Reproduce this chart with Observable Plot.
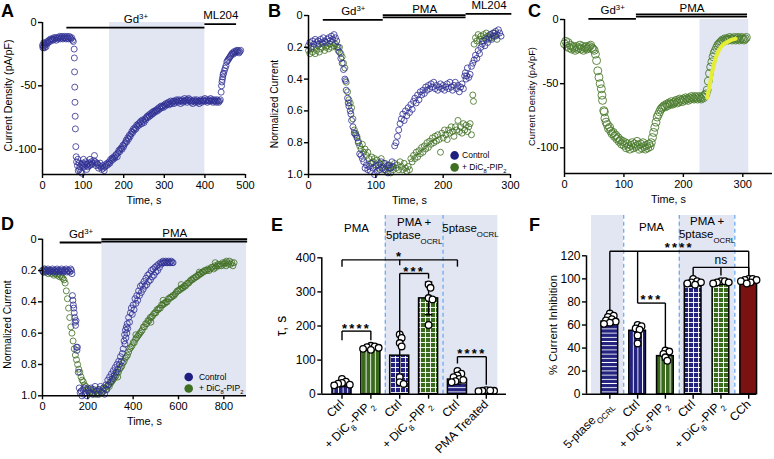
<!DOCTYPE html>
<html><head><meta charset="utf-8">
<script src="https://cdn.jsdelivr.net/npm/d3@7"></script>
<script src="https://cdn.jsdelivr.net/npm/@observablehq/plot@0.6"></script>
<style>
body{margin:0;background:#fff;font-family:'Liberation Sans',Arial,sans-serif;}
#fig{position:relative;width:774px;height:459px;overflow:hidden;background:#fff;}
.panel{position:absolute;}
.letter{position:absolute;font-weight:bold;font-size:18px;line-height:18px;color:#000;}
</style></head><body>
<svg width="0" height="0" style="position:absolute"><defs>
<pattern id="vNavy" patternUnits="userSpaceOnUse" width="4.6" height="10"><rect width="4.6" height="10" fill="#23237f"/><line x1="2.3" y1="0" x2="2.3" y2="10" stroke="#fff" stroke-width="0.9"/></pattern>
<pattern id="vGreen" patternUnits="userSpaceOnUse" width="4.6" height="10"><rect width="4.6" height="10" fill="#3a6a1e"/><line x1="2.3" y1="0" x2="2.3" y2="10" stroke="#fff" stroke-width="0.9"/></pattern>
<pattern id="hNavy" patternUnits="userSpaceOnUse" width="10" height="4.2"><rect width="10" height="4.2" fill="#23237f"/><line x1="0" y1="2.1" x2="10" y2="2.1" stroke="#fff" stroke-width="0.9"/></pattern>
<pattern id="gNavy" patternUnits="userSpaceOnUse" width="5" height="5"><rect width="5" height="5" fill="#23237f"/><path d="M2.5 0V5M0 2.5H5" stroke="#fff" stroke-width="0.9"/></pattern>
<pattern id="gGreen" patternUnits="userSpaceOnUse" width="5" height="5"><rect width="5" height="5" fill="#3a6a1e"/><path d="M2.5 0V5M0 2.5H5" stroke="#fff" stroke-width="0.9"/></pattern>
</defs></svg>
<div id="fig"></div>
<script>
// ---------------- DATA ----------------
// Panel A: time (s), current density (pA/pF)
const aTrace = [
[0,-18],[1,-20],[2,-19],[3,-16],[4,-17],[5,-20],[6,-18],[8,-16],[9,-19],[10,-17],[12,-15],[14,-16],[16,-14],[18,-15],[20,-13],[22,-14],[24,-13],[26,-14],[28,-12],[30,-13],[32,-12],[34,-14],[36,-12],[38,-13],[40,-12],[42,-11],[44,-13],[46,-12],[48,-11],[50,-13],[52,-12],[54,-11],[56,-12],[58,-13],[60,-11],[62,-12],[64,-13],[66,-11],[68,-12],[70,-13],[72,-12],[74,-14],[76,-15],
[78,-21],[78.5,-28],[79,-39],[79.5,-51],[80,-63],[80.5,-74],[81,-84],[82,-98],[83,-106],
[84,-110],[86,-113],[87,-108],[88,-117],[90,-111],[91,-116],[92,-114],[94,-118],[96,-112],[97,-119],[98,-113],[100,-111],[101,-108],[102,-114],[104,-112],[106,-110],[108,-113],[109,-116],[110,-112],[112,-114],[114,-111],[116,-113],[117,-108],[118,-112],[120,-110],[122,-112],[124,-111],[126,-109],[128,-105],[130,-110],[132,-113],[134,-111],[136,-112],[138,-115],[140,-113],[142,-111],[144,-114],[146,-116],[148,-113],[150,-115],[152,-117],[154,-114],[156,-112],[158,-113],[160,-111],[162,-112],[164,-110],
[166,-111],[168,-108],[170,-109],[172,-107],[174,-108],[176,-106],[178,-107],[180,-105],[182,-104],[184,-106],[186,-103],[188,-101],[190,-102],[192,-100],[194,-99],[196,-100],[198,-97],[200,-98],
[202,-96],[204,-95],[206,-93],[208,-94],[210,-91],[212,-92],[214,-89],[216,-90],[218,-88],[220,-86],[222,-87],[224,-84],[226,-85],[228,-83],[230,-84],[232,-81],[234,-82],[236,-80],[238,-81],[240,-79],[242,-78],[244,-80],[246,-77],[248,-78],[250,-79],[252,-76],[254,-77],[256,-75],[258,-74],[260,-75],
[262,-73],[264,-74],[266,-72],[268,-73],[270,-71],[272,-72],[274,-70],[276,-71],[278,-70],[280,-69],[282,-70],[284,-68],[286,-69],[288,-67],[290,-68],[292,-66],[294,-67],[296,-66],[298,-67],[300,-65],[302,-66],[304,-64],[306,-65],[308,-64],[310,-63],[312,-65],[314,-64],[316,-62],[318,-64],[320,-63],[322,-62],[324,-64],[326,-62],[328,-63],[330,-61],
[332,-62],[334,-63],[336,-61],[338,-62],[340,-64],[342,-62],[344,-61],[346,-63],[348,-62],[350,-60],[352,-62],[354,-61],[356,-63],[358,-61],[360,-60],[362,-62],[364,-61],[366,-63],[368,-62],[370,-64],[372,-62],[374,-61],[376,-63],[378,-62],[380,-61],[382,-63],[384,-62],[386,-64],[388,-62],[390,-61],[392,-63],[394,-62],[396,-61],[398,-62],[400,-60],[402,-62],[404,-61],[406,-63],[408,-62],[410,-61],[412,-62],[414,-60],[416,-62],[418,-61],[420,-63],[422,-62],[424,-61],[426,-62],[428,-63],[430,-61],[432,-62],[434,-63],[436,-62],[438,-61],
[440,-55],[441,-50],[442,-47],[443,-45],[444,-43],[445,-41],[446,-40],[448,-38],[450,-36],[452,-34],[454,-31],[456,-30],[458,-29],[460,-28],[462,-27],[464,-26],[466,-25],[468,-24],[470,-25],[472,-23],[474,-24],[476,-23],[478,-22],[480,-23],[482,-22],[484,-24],[486,-23],[488,-22]
];
const aShade = [[165, 400]];
const aProtocol = [
  {label: "Gd^{3+}", start: 60, end: 400, level: -4},
  {label: "ML204", start: 400, end: 478, level: -1.3}
];

// Panel B: time (s), normalized current
const bControl = [
[0,0.19],[2,0.17],[4,0.2],[6,0.16],[8,0.18],[10,0.15],[12,0.17],[14,0.16],[16,0.18],[18,0.15],[20,0.17],[22,0.14],[24,0.16],[26,0.17],[28,0.15],[30,0.14],[32,0.16],[34,0.13],[36,0.15],[38,0.12],[40,0.14],[42,0.16],[44,0.2],
[46,0.23],[48,0.27],[50,0.3],[52,0.34],[54,0.4],[55,0.41],[56,0.47],[58,0.52],[59,0.55],[60,0.57],[62,0.6],[63,0.62],[64,0.66],[66,0.7],[68,0.74],[70,0.75],[72,0.77],[74,0.8],[76,0.87],[78,0.88],[80,0.9],[82,0.92],[84,0.96],[86,0.94],[88,0.97],[90,0.95],[92,0.98],[94,0.93],[96,0.96],[98,1.0],[100,0.95],[102,0.98],[104,0.94],[106,0.97],[108,0.92],[110,0.96],[112,0.93],[114,0.97],[116,0.95],[118,0.99],[120,0.94],[122,0.96],[124,0.92],[126,0.95],[128,0.82],
[130,0.8],[132,0.76],[134,0.72],[136,0.68],[138,0.65],[140,0.62],[142,0.66],[144,0.6],[146,0.63],[148,0.58],[150,0.61],[152,0.56],[154,0.59],[156,0.54],[158,0.52],[160,0.55],[162,0.5],[164,0.53],[166,0.48],[168,0.5],[170,0.47],[172,0.49],[174,0.45],[176,0.47],[178,0.44],[180,0.46],[182,0.43],[184,0.45],[186,0.42],[188,0.46],[190,0.44],[192,0.47],[194,0.45],[196,0.43],[198,0.46],[200,0.44],[202,0.47],[204,0.45],[206,0.43],[208,0.46],[210,0.42],[212,0.45],[214,0.47],[216,0.44],[218,0.42],[220,0.46],[222,0.44],[224,0.48],[226,0.45],[228,0.43],[230,0.46],
[232,0.38],[233,0.36],[234,0.4],[235,0.38],[236,0.33],[238,0.39],[240,0.37],[242,0.32],[244,0.3],[246,0.28],[248,0.25],[250,0.27],[252,0.22],[254,0.24],[256,0.2],[258,0.18],[260,0.16],[262,0.19],[264,0.15],[266,0.17],[268,0.14],[270,0.12],[272,0.15],[274,0.11],[276,0.13],[278,0.1],[280,0.12],[282,0.09],[284,0.11],[286,0.13]
];
const bPip2 = [
[0,0.22],[2,0.24],[4,0.21],[6,0.23],[8,0.2],[10,0.24],[12,0.22],[14,0.19],[16,0.23],[18,0.21],[20,0.2],[22,0.18],[24,0.22],[26,0.2],[28,0.19],[30,0.21],[32,0.18],[34,0.2],[36,0.17],[38,0.19],[40,0.18],[42,0.2],[44,0.22],
[46,0.2],[48,0.24],[50,0.26],[52,0.3],[54,0.33],[56,0.42],[58,0.48],[60,0.53],[62,0.55],[64,0.58],[66,0.65],[68,0.72],[70,0.74],[72,0.76],[74,0.79],[76,0.82],[78,0.84],[80,0.81],[82,0.86],[84,0.84],[86,0.88],[88,0.86],[90,0.9],[92,0.93],[94,0.89],[96,0.92],[98,0.9],[100,0.94],[102,0.91],[104,0.96],[106,0.93],[108,0.9],[110,0.95],[112,0.97],[114,0.93],[116,0.98],[118,0.94],[120,0.96],[122,0.99],[124,0.95],[126,0.97],[128,0.93],[130,0.96],[132,0.94],[134,0.97],[136,0.92],[138,0.95],[140,0.97],[142,0.93],[144,0.96],[146,0.98],[148,0.95],[150,0.97],
[152,0.9],[154,0.92],[156,0.88],[158,0.9],[160,0.86],[162,0.89],[164,0.85],[166,0.87],[168,0.83],[170,0.86],[172,0.82],[174,0.84],[176,0.8],[178,0.83],[180,0.79],[182,0.81],[184,0.77],[186,0.8],[188,0.76],[190,0.79],[192,0.75],[194,0.78],[196,0.86],[198,0.74],[200,0.77],[202,0.72],[204,0.75],[206,0.78],[208,0.72],[210,0.74],[212,0.7],[214,0.73],[216,0.76],[218,0.7],[220,0.72],[222,0.66],[224,0.73],[226,0.7],[228,0.74],[230,0.68],[232,0.72],[234,0.69],[236,0.73],[238,0.7],[240,0.68],[242,0.75],[244,0.5],[245,0.54],
[246,0.18],[248,0.14],[250,0.16],[252,0.12],[254,0.15],[256,0.13],[258,0.16],[260,0.12],[262,0.14],[264,0.11],[266,0.13],[268,0.15],[270,0.12],[272,0.14],[274,0.13],[276,0.11],[278,0.13],[280,0.15]
];
const bProtocol = [
  {label: "Gd^{3+}", start: 22, end: 111, level: 0.027},
  {label: "PMA", start: 111, end: 234, level: 0.012, double: true},
  {label: "ML204", start: 234, end: 302, level: -0.01}
];

// Panel C: time (s), current density (pA/pF)
const cTrace = [
[0,-19],[2,-17],[4,-21],[6,-18],[8,-22],[10,-20],[12,-23],[14,-21],[16,-22],[18,-24],[20,-21],[22,-23],[24,-22],[26,-20],[28,-23],[30,-21],[32,-24],[34,-22],[36,-21],[38,-23],[40,-22],[42,-21],[44,-20],[46,-22],[48,-23],[50,-24],
[52,-27],[54,-32],[56,-40],[58,-45],[60,-50],[62,-54],[63,-59],[64,-63],[66,-71],[67,-72],[68,-77],[70,-80],[72,-82],[74,-85],[76,-84],[78,-87],[80,-89],[82,-88],[84,-91],[86,-90],[88,-93],[90,-92],[92,-95],[94,-94],[96,-97],[98,-95],[100,-98],[102,-96],[104,-100],[106,-97],[108,-99],[110,-101],[112,-98],[114,-96],[116,-100],[118,-97],[120,-99],[122,-95],[124,-98],[126,-101],[128,-97],[130,-100],[132,-96],[134,-99],[136,-101],[138,-98],[140,-100],[142,-97],[144,-99],
[146,-96],[148,-92],[150,-88],[152,-84],[154,-80],[156,-76],[158,-74],[160,-72],[162,-70],[164,-69],[166,-68],[168,-67],[170,-68],[172,-66],[174,-67],[176,-65],[178,-66],[180,-64],[182,-66],[184,-65],[186,-64],[188,-63],[190,-65],[192,-64],[194,-62],[196,-63],[198,-64],[200,-62],[202,-63],[204,-61],[206,-62],[208,-63],[210,-61],[212,-62],[214,-60],[216,-61],[218,-62],[220,-60],[222,-61],[224,-62],[226,-60],[228,-61],[230,-62],[232,-60],[234,-61],[236,-59],
[238,-58],[240,-55],[242,-48],[244,-42],[246,-37],[248,-33],[250,-29],[252,-26],[254,-24],[256,-22],[258,-20],[260,-19],[262,-18],[264,-17],[266,-16],[268,-17],[270,-15],[272,-16],[274,-15],[276,-16],[278,-14],[280,-15],[282,-16],[284,-15],[286,-14],[288,-16],[290,-15],[292,-14],[294,-16],[296,-15],[298,-14],[300,-15],[302,-16],[304,-15],[306,-14]
];
const cFit = [[240,-61],[244,-52],[248,-42],[252,-34],[256,-28],[260,-24],[266,-20],[272,-18],[280,-16],[288,-15]];
const cShade = [[228, 310]];
const cProtocol = [
  {label: "Gd^{3+}", start: 41, end: 121, level: 0.5},
  {label: "PMA", start: 121, end: 308, level: 2.2, double: true}
];

// Panel D: time (s), normalized current
const dControl = [
[0,0.2],[4,0.21],[8,0.19],[12,0.2],[16,0.21],[20,0.2],[24,0.19],[28,0.2],[32,0.21],[36,0.2],[40,0.2],[44,0.19],[48,0.21],[52,0.2],[56,0.2],[60,0.21],[64,0.19],[68,0.2],[72,0.2],[76,0.21],[80,0.2],[84,0.19],[88,0.2],[92,0.21],[96,0.2],[100,0.2],[104,0.19],[108,0.21],[112,0.2],[116,0.2],[120,0.21],[124,0.19],[128,0.2],
[130,0.22],[132,0.36],[134,0.39],[136,0.42],[138,0.44],[140,0.47],[142,0.5],[144,0.53],[146,0.55],[148,0.52],[150,0.69],[152,0.71],[154,0.69],[158,0.85],[162,0.95],[166,0.98],[170,0.97],[174,1.0],[178,0.96],[182,0.99],[186,0.95],[190,0.98],[196,1.0],[202,0.96],[208,0.98],[214,0.95],[220,0.99],[226,0.96],[232,0.94],[238,0.97],[244,0.99],[250,0.96],[256,0.94],[262,0.98],[268,0.95],[274,0.99],[280,0.93],[284,0.96],
[288,0.9],[292,0.93],[296,0.88],[300,0.91],[304,0.86],[308,0.89],[312,0.84],[316,0.87],[320,0.82],[324,0.85],[328,0.8],[332,0.83],[336,0.78],[340,0.8],[344,0.75],[348,0.78],[352,0.73],[356,0.7],[360,0.65],[362,0.61],[364,0.67],[366,0.58],[368,0.63],[370,0.56],[372,0.6],[374,0.54],[376,0.57],[380,0.5],[384,0.53],[388,0.47],[392,0.44],[396,0.48],[400,0.42],[404,0.45],[408,0.38],[412,0.41],[416,0.36],[420,0.39],[424,0.33],[428,0.36],[432,0.3],[436,0.34],[440,0.29],[444,0.32],[448,0.27],[452,0.3],[456,0.25],[460,0.29],[464,0.23],[468,0.27],[472,0.22],[476,0.26],[480,0.2],[484,0.24],[488,0.19],[492,0.23],[496,0.18],[500,0.21],[504,0.17],[508,0.2],[512,0.16],[516,0.18],[520,0.15],
[524,0.16],[528,0.15],[532,0.14],[536,0.15],[540,0.15],[544,0.14],[548,0.15],[552,0.15],[556,0.14],[560,0.15],[564,0.15],[568,0.14],[572,0.15],[576,0.15]
];
const dPip2 = [
[0,0.2],[5,0.21],[10,0.19],[15,0.21],[20,0.2],[25,0.22],[30,0.21],[35,0.2],[40,0.22],[45,0.21],[50,0.23],[55,0.22],[60,0.21],[65,0.23],[70,0.22],[75,0.24],[80,0.23],[85,0.24],[90,0.25],[95,0.26],
[100,0.28],[105,0.33],[110,0.38],[115,0.44],[120,0.5],[125,0.56],[130,0.6],[135,0.65],[140,0.7],[145,0.74],[150,0.77],[155,0.8],[160,0.83],[165,0.85],[170,0.88],[175,0.9],[180,0.91],[185,0.93],[190,0.94],[195,0.96],[200,0.95],[205,0.97],[210,0.98],[215,0.96],[220,0.98],[225,0.99],[230,0.97],[235,0.99],[240,0.98],[245,0.96],[250,0.99],[255,0.97],[260,0.98],[265,0.96],[270,0.97],[275,0.95],[280,0.96],[285,0.94],[290,0.93],[295,0.94],
[300,0.92],[305,0.91],[310,0.9],[315,0.89],[320,0.88],[325,0.87],[330,0.85],[332,0.88],[335,0.85],[340,0.83],[345,0.82],[350,0.81],[355,0.79],[360,0.78],[365,0.76],[370,0.75],[375,0.74],[380,0.72],[385,0.7],[390,0.69],[395,0.68],[400,0.66],[405,0.66],[410,0.64],[412,0.61],[415,0.63],[420,0.62],[425,0.61],[430,0.6],[435,0.59],[440,0.58],[445,0.56],[450,0.56],[455,0.54],[460,0.54],[465,0.52],[470,0.52],[475,0.5],[478,0.53],[480,0.5],[485,0.49],[490,0.48],[495,0.47],[500,0.47],[505,0.45],[510,0.45],[515,0.44],[520,0.44],[525,0.42],[530,0.42],[532,0.39],[535,0.41],[540,0.41],[545,0.4],[550,0.4],[555,0.38],[560,0.38],[565,0.37],[570,0.37],[575,0.36],[580,0.36],[585,0.35],[590,0.34],[595,0.33],[600,0.33],[605,0.32],[610,0.32],[612,0.29],[615,0.31],[620,0.31],[625,0.3],[630,0.3],[635,0.29],[640,0.28],[645,0.28],[650,0.27],[655,0.26],[660,0.26],[665,0.25],[670,0.25],[675,0.24],[680,0.24],[685,0.23],[690,0.23],[692,0.21],[695,0.22],[700,0.22],[705,0.21],[710,0.21],[715,0.2],[720,0.2],[725,0.2],[730,0.19],[735,0.2],[740,0.19],[745,0.18],[750,0.18],[755,0.19],[760,0.17],[762,0.15],[765,0.18],[770,0.17],[775,0.16],[780,0.17],[785,0.16],[790,0.17],[795,0.15],[800,0.16],[805,0.15],[810,0.17],[812,0.14],[815,0.15],[820,0.16],[825,0.14],[830,0.16],[835,0.15],[840,0.17],[845,0.15]
];
const dShade = [[262, 900]];
const dProtocol = [
  {label: "Gd^{3+}", start: 78, end: 262, level: 0.021},
  {label: "PMA", start: 262, end: 905, level: 0.015, double: true}
];
const legendLabels = ["Control", "+ DiC_8-PIP_2"];

// Panel E: tau (s)
const eCategories = ["Ctrl", "+ DiC_8-PIP_2", "Ctrl", "+ DiC_8-PIP_2", "Ctrl", "PMA Treated"];
const eMeans = [32, 136, 113, 281, 43, 10];
const eSD = [10, 6, 63, 48, 13, 2];
const ePoints = [[45,37,33,31,28,26],[142,140,138,136,133,130],[175,165,150,140,50,35,30],[322,312,282,278,203],[68,60,55,50,45,42,38,35],[12,10,10,9,11]];
const eSections = [
  {label: "PMA", from: -0.5, to: 1.5, shaded: false},
  {label: "PMA +\n5ptase_{OCRL}", from: 1.5, to: 3.5, shaded: true},
  {label: "5ptase_{OCRL}", from: 3.5, to: 5.4, shaded: true}
];
const eDividers = [1.5, 3.5];
const eBrackets = [
  {from: 0, to: 4, y: 394, drops: [[0, 374], [2, 378], [4, 374]], label: "*", ly: 412},
  {from: 2, to: 3, y: 354, drops: [[2, 174], [3, 339]], label: "***", ly: 370},
  {from: 0, to: 1, y: 185, drops: [[0, 158], [1, 158]], label: "****", ly: 203},
  {from: 4, to: 5, y: 110, drops: [[4, 90], [5, 28]], label: "****", ly: 129}
];

// Panel F: % current inhibition
const fCategories = ["5-ptase_{OCRL}", "Ctrl", "+ DiC_8-PIP_2", "Ctrl", "+ DiC_8-PIP_2", "CCh"];
const fMeans = [63, 55, 33, 96, 96, 98];
const fSD = [3, 6, 3.5, 2, 1, 1.5];
const fPoints = [[70,68,67,65,64,63,62,61],[60,59,57,56,51,44],[38,37,35,32,29],[100,98,97,97,96,95],[98,98,97,97,96],[100,100,99,99,98,97,96]];
const fSections = [
  {label: "", from: -0.66, to: 0.5, shaded: true},
  {label: "PMA", from: 0.5, to: 2.5, shaded: false},
  {label: "PMA +\n5ptase_{OCRL}", from: 2.5, to: 4.5, shaded: true}
];
const fDividers = [0.5, 2.5, 4.5];
const fBrackets = [
  {from: 0, to: 5, y: 124, drops: [[0, 72], [1, 79], [5, 103]], label: "****", ly: 130},
  {from: 1, to: 2, y: 79, drops: [[2, 40]], label: "***", ly: 84.5},
  {from: 3, to: 5, y: 110, drops: [[3, 103], [4, 103], [5, 103]], label: "ns", ly: 116}
];

// ---------------- STYLES ----------------
const FONT = "'Liberation Sans', Arial, Helvetica, sans-serif";
const NAVY = "#2f2f93", NAVY_FILL = "#1e1e80", GREEN = "#3f7022", GREEN_C = "#4d7d30";
const SHADE = "#e2e6f3", DASH = "#62a6f2", FIT = "#e4ee36", RED = "#7b1212";
const ePatterns = ["vNavy", "vGreen", "gNavy", "gGreen", "hNavy", "hNavy"];
const fPatterns = ["hNavy", "vNavy", "vGreen", "gNavy", "gGreen", RED];
const baseStyle = {background: "none", overflow: "visible", fontFamily: FONT, color: "#000"};

// ---------------- HELPERS ----------------
function richText(root) {
  const leaves = [...root.querySelectorAll("text, tspan")].filter(n => n.children.length === 0);
  for (const n of leaves) {
    const s = n.textContent;
    if (/^\*+$/.test(s)) { n.setAttribute("letter-spacing", "2.2"); continue; }
    if (!/[_^]/.test(s)) continue;
    n.textContent = "";
    const re = /([_^])(?:\{([^}]*)\}|(.))/g;
    let last = 0, m;
    const add = (txt, kind) => {
      const t = document.createElementNS("http://www.w3.org/2000/svg", "tspan");
      t.textContent = txt;
      if (kind) { t.setAttribute("baseline-shift", kind === "_" ? "sub" : "super"); t.setAttribute("font-size", "68%"); }
      n.appendChild(t);
    };
    while ((m = re.exec(s))) {
      if (m.index > last) add(s.slice(last, m.index), null);
      add(m[2] ?? m[3], m[1]);
      last = re.lastIndex;
    }
    if (last < s.length) add(s.slice(last), null);
  }
}

function swarm(vals, kx, ky, minDist) {
  const order = vals.map((v, i) => i).sort((a, b) => vals[b] - vals[a]);
  const placed = [], off = new Array(vals.length).fill(0);
  for (const i of order) {
    const py = vals[i] * ky;
    for (let k = 0; k < 60; k++) {
      const px = k === 0 ? 0 : (k % 2 ? 1 : -1) * Math.ceil(k / 2) * minDist * 0.5;
      if (placed.every(p => Math.hypot(p.x - px, p.y - py) >= minDist)) { placed.push({x: px, y: py}); off[i] = px / kx; break; }
    }
  }
  return off;
}

const fig = document.getElementById("fig");
function place(node, left, top) {
  const d = document.createElement("div");
  d.className = "panel"; d.style.left = left + "px"; d.style.top = top + "px";
  d.appendChild(node); fig.appendChild(d); richText(node);
}
function letter(ch, left, baseline) {
  const d = document.createElement("div");
  d.className = "letter"; d.textContent = ch;
  d.style.left = left + "px"; d.style.top = (baseline - 16) + "px";
  fig.appendChild(d);
}

function tracePanel(o) {
  const bottomVal = o.reverse ? o.yDomain[1] : o.yDomain[0];
  const marks = [
    Plot.rect(o.shade, {x1: d => d[0], x2: d => d[1], y1: o.yDomain[0], y2: o.yDomain[1], fill: SHADE}),
    ...o.series.map(s => Plot.dot(s.data, {x: d => d[0], y: d => d[1], r: s.r, stroke: s.color, strokeWidth: s.sw, fill: "none", strokeOpacity: 0.9})),
  ];
  if (o.fit) marks.push(Plot.line(o.fit, {x: d => d[0], y: d => d[1], stroke: FIT, strokeWidth: 4, curve: "catmull-rom"}));
  marks.push(
    Plot.ruleY(o.protocol, {x1: "start", x2: "end", y: "level", strokeWidth: 1.8, stroke: "#000"}),
    Plot.ruleY(o.protocol.filter(p => p.double), {x1: "start", x2: "end", y: "level", strokeWidth: 1.8, stroke: "#000", dy: -2.3}),
    Plot.text(o.protocol, {x: p => (p.start + p.end) / 2, y: "level", text: "label", dy: -8.5, fontSize: 11.5})
  );
  if (o.legend) {
    const lg = legendLabels.map((label, i) => ({label, y: o.legend.y[i], color: [NAVY_FILL, GREEN][i]}));
    marks.push(
      Plot.dot(lg, {x: o.legend.x, y: "y", r: 4.3, fill: "color", stroke: "none"}),
      Plot.text(lg, {x: o.legend.tx, y: "y", text: "label", textAnchor: "start", fontSize: 8.5})
    );
  }
  marks.push(
    Plot.ruleX([o.xDomain[0]], {y1: o.yDomain[0], y2: o.yDomain[1], strokeWidth: 1.5}),
    Plot.ruleY([bottomVal], {x1: o.xDomain[0], x2: o.xDomain[1], strokeWidth: 1.5}),
    Plot.axisY({ticks: o.yTicks, tickFormat: o.yFormat, tickSize: 4, tickPadding: 2, fontSize: 11, strokeWidth: 1.4, label: null}),
    Plot.axisX({ticks: o.xTicks, tickFormat: d => String(d), tickSize: 4, tickPadding: 2.5, fontSize: 11, strokeWidth: 1.4, label: null}),
    Plot.text([o.ylabel], {frameAnchor: "left", rotate: -90, dx: o.ylabelDx, dy: o.ylabelDy || 0, text: d => d, fontSize: o.ylabelSize, textAnchor: "middle", lineAnchor: "middle"}),
    Plot.text(["Time, s"], {frameAnchor: "bottom", dy: 26, text: d => d, fontSize: 10.8, textAnchor: "middle", lineAnchor: "middle"})
  );
  return Plot.plot({
    width: o.W, height: o.H, marginLeft: o.mL, marginRight: o.mR, marginTop: o.mT, marginBottom: o.mB,
    x: {domain: o.xDomain}, y: {domain: o.yDomain, reverse: !!o.reverse},
    color: {type: "identity"}, style: baseStyle, marks
  });
}

function barPanel(o) {
  const W = 258, H = 254;
  const kx = (W - o.mL - o.mR) / (o.xDomain[1] - o.xDomain[0]);
  const ky = (H - o.mT - o.mB) / (o.yDomain[1] - o.yDomain[0]);
  const bars = o.cats.map((c, i) => ({
    i, x1: i - o.barW / 2, x2: i + o.barW / 2, y: o.means[i],
    lo: o.means[i] - o.sds[i], hi: o.means[i] + o.sds[i],
    fill: o.fills[i].startsWith("#") ? o.fills[i] : `url(#${o.fills[i]})`
  }));
  const caps = bars.flatMap(b => [{x1: b.i - 0.13, x2: b.i + 0.13, y: b.lo}, {x1: b.i - 0.13, x2: b.i + 0.13, y: b.hi}]);
  const dots = o.points.flatMap((vals, i) => { const off = swarm(vals, kx, ky, 3.9); return vals.map((v, j) => ({x: i + off[j], y: v})); });
  const segs = o.brackets.flatMap(b => [{x1: b.from, x2: b.to, y1: b.y, y2: b.y}, ...b.drops.map(([x, y2]) => ({x1: x, x2: x, y1: b.y, y2}))]);
  const starLabels = o.brackets.filter(b => /\*/.test(b.label));
  const textLabels = o.brackets.filter(b => !/\*/.test(b.label));
  return Plot.plot({
    width: W, height: H, marginLeft: o.mL, marginRight: o.mR, marginTop: o.mT, marginBottom: o.mB,
    x: {domain: o.xDomain}, y: {domain: o.yDomain}, color: {type: "identity"}, style: baseStyle,
    marks: [
      Plot.rect(o.sections.filter(s => s.shaded), {x1: "from", x2: "to", y1: o.yDomain[0], y2: o.shadeTop, fill: SHADE}),
      Plot.ruleX(o.dividers, {x: d => d, y1: o.yDomain[0], y2: o.shadeTop, stroke: DASH, strokeWidth: 1.2, strokeDasharray: "4,3"}),
      Plot.text(o.sections.filter(s => s.label), {x: s => (s.from + s.to) / 2, y: o.sectionY, text: "label", fontSize: 11.5, lineHeight: 1.12, lineAnchor: "middle"}),
      Plot.rect(bars, {x1: "x1", x2: "x2", y1: 0, y2: "y", fill: "fill", stroke: "#000", strokeWidth: 1.5}),
      Plot.ruleX(bars, {x: "i", y1: "lo", y2: "hi", stroke: "#000", strokeWidth: 1.4}),
      Plot.link(caps, {x1: "x1", x2: "x2", y1: "y", y2: "y", stroke: "#000", strokeWidth: 1.4}),
      Plot.dot(dots, {x: "x", y: "y", r: 3.3, fill: "#fff", stroke: "#000", strokeWidth: 1.3}),
      Plot.link(segs, {x1: "x1", x2: "x2", y1: "y1", y2: "y2", stroke: "#000", strokeWidth: 1.4}),
      Plot.text(starLabels, {x: b => (b.from + b.to) / 2, y: "ly", text: "label", fontSize: 13, fontWeight: "bold", dy: 3.5, lineAnchor: "middle"}),
      Plot.text(textLabels, {x: b => (b.from + b.to) / 2, y: "ly", text: "label", fontSize: 12, lineAnchor: "middle"}),
      Plot.ruleX([o.xDomain[0]], {y1: o.yDomain[0], y2: o.yDomain[1], strokeWidth: 1.5}),
      Plot.ruleY([o.yDomain[0]], {x1: o.xDomain[0], x2: o.xDomain[1], strokeWidth: 1.5}),
      Plot.axisY({ticks: o.yTicks, tickSize: 4, tickPadding: 2, fontSize: 12, strokeWidth: 1.4, label: null}),
      Plot.axisX({ticks: o.cats.map((c, i) => i), tickFormat: i => o.cats[i], tickRotate: -45, textAnchor: "end", tickSize: 5, tickPadding: 3, fontSize: 12, strokeWidth: 1.4, label: null}),
      Plot.text([o.ylabel], {frameAnchor: "left", rotate: -90, dx: o.ylabelDx, text: d => d, fontSize: o.ylabelSize, textAnchor: "middle", lineAnchor: "middle"})
    ]
  });
}

// ---------------- PANELS ----------------
place(tracePanel({
  W: 252, H: 210, mL: 42, mR: 7, mT: 22, mB: 36,
  xDomain: [0, 500], yDomain: [-120, 0], xTicks: [0, 100, 200, 300, 400, 500], yTicks: [0, -50, -100], yFormat: d => String(d),
  shade: aShade, protocol: aProtocol,
  series: [{data: aTrace, color: NAVY, r: 3, sw: 0.9}],
  ylabel: "Current Density (pA/pF)", ylabelDx: -33.5, ylabelDy: -3, ylabelSize: 10.6
}), 0, 0);

place(tracePanel({
  W: 258, H: 210, mL: 50, mR: 6, mT: 15, mB: 36, reverse: true,
  xDomain: [0, 300], yDomain: [0, 1], xTicks: [0, 100, 200, 300], yTicks: [0, 0.2, 0.4, 0.6, 0.8, 1.0], yFormat: d => d === 0 ? "0" : d.toFixed(1),
  shade: [], protocol: bProtocol,
  series: [{data: bPip2, color: GREEN, r: 3, sw: 0.9}, {data: bControl, color: NAVY, r: 3, sw: 0.9}],
  legend: {x: 217, tx: 228, y: [0.88, 0.955]},
  ylabel: "Normalized Current", ylabelDx: -34, ylabelDy: 9, ylabelSize: 10.2
}), 258, 0);

place(tracePanel({
  W: 258, H: 210, mL: 48, mR: 2, mT: 19, mB: 37,
  xDomain: [0, 350], yDomain: [-120, 0], xTicks: [0, 100, 200, 300], yTicks: [0, -50, -100], yFormat: d => String(d),
  shade: cShade, protocol: cProtocol, fit: cFit,
  series: [{data: cTrace, color: GREEN_C, r: 4, sw: 1}],
  ylabel: "Current Density (pA/pF)", ylabelDx: -33, ylabelSize: 9.4
}), 516, 0);

place(tracePanel({
  W: 252, H: 216, mL: 42, mR: 6, mT: 16.7, mB: 42.7, reverse: true,
  xDomain: [0, 900], yDomain: [0, 1], xTicks: [0, 200, 400, 600, 800], yTicks: [0, 0.2, 0.4, 0.6, 0.8, 1.0], yFormat: d => d === 0 ? "0" : d.toFixed(1),
  shade: dShade, protocol: dProtocol,
  series: [{data: dPip2, color: GREEN, r: 3, sw: 0.9}, {data: dControl, color: NAVY, r: 3, sw: 0.9}],
  legend: {x: 645, tx: 690, y: [0.88, 0.953]},
  ylabel: "Normalized Current", ylabelDx: -35, ylabelDy: 7, ylabelSize: 10.2
}), 0, 222);

place(barPanel({
  mL: 63.3, mR: 10, mT: 52.3, mB: 65.3,
  xDomain: [-0.7, 5.7], yDomain: [0, 400], yTicks: [0, 100, 200, 300, 400],
  cats: eCategories, means: eMeans, sds: eSD, points: ePoints, fills: ePatterns, barW: 0.66,
  sections: eSections, dividers: eDividers, shadeTop: 524, sectionY: 487, brackets: eBrackets,
  ylabel: "τ, s", ylabelDx: -40.5, ylabelSize: 14
}), 258, 205);

place(barPanel({
  mL: 70, mR: 18, mT: 50.3, mB: 65.3,
  xDomain: [-0.84, 5.28], yDomain: [0, 120], yTicks: [0, 20, 40, 60, 80, 100, 120],
  cats: fCategories, means: fMeans, sds: fSD, points: fPoints, fills: fPatterns, barW: 0.6,
  sections: fSections, dividers: fDividers, shadeTop: 155, sectionY: 145, brackets: fBrackets,
  ylabel: "% Current Inhibition", ylabelDx: -33.3, ylabelSize: 11.4
}), 516, 205);

letter("A", 1, 18); letter("B", 268, 18); letter("C", 528, 18);
letter("D", 1, 231); letter("E", 271, 232); letter("F", 529, 232);
</script>
</body></html>
